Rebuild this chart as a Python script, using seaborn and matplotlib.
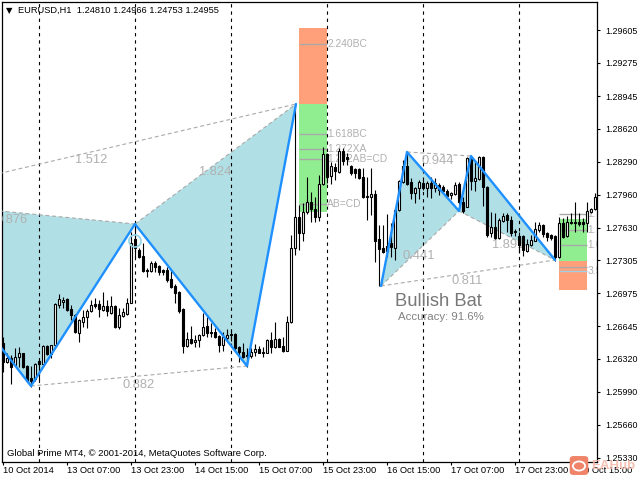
"""EURUSD H1 candles with two harmonic patterns, drawn like an MT4 window."""
import numpy as np
import seaborn as sns
import matplotlib
matplotlib.use("Agg")
import matplotlib.pyplot as plt
from matplotlib.patches import FancyBboxPatch, Circle

# -----------------
# Chart values
# -----------------
opens = [
    1.26475, 1.26285, 1.26325, 1.26255, 1.26335, 1.26375, 1.26245, 1.26125, 1.26115, 1.26295,
    1.26265, 1.26445, 1.26365, 1.26455, 1.26855, 1.26885, 1.26915, 1.26815, 1.26755, 1.26575,
    1.26685, 1.26735, 1.26795, 1.26865, 1.26865, 1.26805, 1.26845, 1.26775, 1.26845, 1.26635,
    1.26745, 1.26765, 1.26875, 1.27515, 1.27405, 1.27345, 1.27205, 1.27195, 1.27275, 1.27245,
    1.27205, 1.27205, 1.27115, 1.27045, 1.26985, 1.26815, 1.26445, 1.26515, 1.26485, 1.26505,
    1.26555, 1.26645, 1.26585, 1.26585, 1.26545, 1.26455, 1.26525, 1.26565, 1.26565, 1.26435,
    1.26385, 1.26355, 1.26345, 1.26385, 1.26415, 1.26385, 1.26375, 1.26505, 1.26435, 1.26515,
    1.26445, 1.26395, 1.26685, 1.27425, 1.27735, 1.27575, 1.27785, 1.27885, 1.27815, 1.27735,
    1.28065, 1.28365, 1.28145, 1.28235, 1.28185, 1.28395, 1.28335, 1.28245, 1.28215, 1.28215,
    1.28135, 1.27935, 1.27935, 1.27965, 1.27515, 1.27425, 1.27445, 1.27475, 1.27425, 1.27805,
    1.28085, 1.28245, 1.28085, 1.27975, 1.28025, 1.28075, 1.28025, 1.28075, 1.28025, 1.28055,
    1.28035, 1.27995, 1.27955, 1.27965, 1.28065, 1.27885, 1.27835, 1.28335, 1.28095, 1.28115,
    1.28335, 1.28035, 1.27575, 1.27635, 1.27525, 1.27695, 1.27755, 1.27705, 1.27595, 1.27545,
    1.27545, 1.27395, 1.27455, 1.27495, 1.27605, 1.27655, 1.27575, 1.27555, 1.27545, 1.27335,
    1.27675, 1.27545, 1.27685, 1.27685, 1.27685, 1.27685, 1.27675, 1.27785, 1.27815,
]
highs = [
    1.26535, 1.26375, 1.26355, 1.26425, 1.26435, 1.26375, 1.26255, 1.26245, 1.26275, 1.26305,
    1.26455, 1.26455, 1.26455, 1.26875, 1.26965, 1.26935, 1.26925, 1.26855, 1.26765, 1.26715,
    1.26805, 1.26815, 1.26905, 1.26925, 1.26905, 1.26985, 1.26905, 1.26945, 1.26855, 1.26825,
    1.26825, 1.26925, 1.27585, 1.27655, 1.27425, 1.27475, 1.27225, 1.27295, 1.27295, 1.27255,
    1.27215, 1.27235, 1.27205, 1.27065, 1.26995, 1.26825, 1.26585, 1.26645, 1.26555, 1.26565,
    1.26775, 1.26735, 1.26675, 1.26625, 1.26555, 1.26585, 1.26615, 1.26605, 1.26575, 1.26445,
    1.26475, 1.26425, 1.26425, 1.26465, 1.26445, 1.26435, 1.26515, 1.26585, 1.26685, 1.26525,
    1.26535, 1.26745, 1.27555, 1.28855, 1.27855, 1.27875, 1.28135, 1.27985, 1.27935, 1.28155,
    1.28435, 1.28375, 1.28285, 1.28275, 1.28425, 1.28425, 1.28375, 1.28255, 1.28225, 1.28225,
    1.28225, 1.28135, 1.28225, 1.28005, 1.27655, 1.27655, 1.27765, 1.27675, 1.27825, 1.28105,
    1.28305, 1.28385, 1.28125, 1.28035, 1.28105, 1.28105, 1.28095, 1.28135, 1.28125, 1.28075,
    1.28055, 1.28015, 1.27985, 1.28085, 1.28085, 1.27935, 1.28335, 1.28345, 1.28305, 1.28345,
    1.28345, 1.28045, 1.27785, 1.27775, 1.27725, 1.27775, 1.27775, 1.27745, 1.27615, 1.27585,
    1.27555, 1.27515, 1.27555, 1.27685, 1.27685, 1.27665, 1.27585, 1.27565, 1.27555, 1.27735,
    1.27725, 1.27745, 1.27775, 1.27885, 1.27775, 1.27725, 1.27885, 1.27825, 1.27975,
]
lows = [
    1.26185, 1.26275, 1.26065, 1.26245, 1.26235, 1.26225, 1.26085, 1.26035, 1.26095, 1.26105,
    1.26245, 1.26355, 1.26325, 1.26445, 1.26825, 1.26825, 1.26795, 1.26705, 1.26575, 1.26485,
    1.26635, 1.26625, 1.26785, 1.26825, 1.26735, 1.26795, 1.26745, 1.26765, 1.26625, 1.26615,
    1.26735, 1.26755, 1.26875, 1.27325, 1.27325, 1.27185, 1.27135, 1.27185, 1.27185, 1.27155,
    1.27155, 1.27085, 1.27025, 1.26875, 1.26775, 1.26375, 1.26435, 1.26465, 1.26435, 1.26435,
    1.26545, 1.26535, 1.26535, 1.26525, 1.26385, 1.26395, 1.26495, 1.26495, 1.26405, 1.26285,
    1.26325, 1.26235, 1.26325, 1.26345, 1.26375, 1.26335, 1.26375, 1.26375, 1.26425, 1.26435,
    1.26385, 1.26395, 1.26675, 1.27355, 1.27405, 1.27495, 1.27765, 1.27685, 1.27685, 1.27695,
    1.28055, 1.28075, 1.28065, 1.28105, 1.28175, 1.28255, 1.28255, 1.28155, 1.28125, 1.28115,
    1.27925, 1.27705, 1.27755, 1.27285, 1.27045, 1.27375, 1.27335, 1.27335, 1.27305, 1.27795,
    1.28075, 1.28055, 1.27915, 1.27875, 1.27915, 1.28005, 1.27935, 1.27925, 1.27985, 1.27955,
    1.27985, 1.27935, 1.27915, 1.27955, 1.27855, 1.27775, 1.27835, 1.28005, 1.27995, 1.28105,
    1.27845, 1.27535, 1.27535, 1.27515, 1.27515, 1.27685, 1.27585, 1.27545, 1.27545, 1.27375,
    1.27345, 1.27385, 1.27445, 1.27495, 1.27585, 1.27535, 1.27495, 1.27505, 1.27295, 1.27325,
    1.27525, 1.27535, 1.27665, 1.27585, 1.27645, 1.27585, 1.27585, 1.27775, 1.27805,
]
closes = [
    1.26285, 1.26325, 1.26235, 1.26335, 1.26375, 1.26235, 1.26095, 1.26095, 1.26265, 1.26265,
    1.26445, 1.26365, 1.26455, 1.26865, 1.26915, 1.26905, 1.26805, 1.26755, 1.26585, 1.26705,
    1.26735, 1.26795, 1.26855, 1.26845, 1.26815, 1.26845, 1.26795, 1.26845, 1.26635, 1.26755,
    1.26785, 1.26875, 1.27475, 1.27425, 1.27335, 1.27195, 1.27195, 1.27275, 1.27235, 1.27185,
    1.27185, 1.27105, 1.27035, 1.26975, 1.26795, 1.26445, 1.26515, 1.26475, 1.26505, 1.26555,
    1.26635, 1.26575, 1.26575, 1.26535, 1.26455, 1.26535, 1.26555, 1.26555, 1.26425, 1.26385,
    1.26335, 1.26345, 1.26385, 1.26415, 1.26375, 1.26375, 1.26505, 1.26435, 1.26515, 1.26435,
    1.26395, 1.26685, 1.27425, 1.27735, 1.27575, 1.27785, 1.27885, 1.27815, 1.27735, 1.28065,
    1.28365, 1.28135, 1.28245, 1.28195, 1.28395, 1.28295, 1.28315, 1.28175, 1.28175, 1.28125,
    1.27935, 1.27945, 1.27965, 1.27495, 1.27415, 1.27385, 1.27395, 1.27435, 1.27805, 1.28095,
    1.28245, 1.28065, 1.27975, 1.28025, 1.28085, 1.28025, 1.28075, 1.28025, 1.28075, 1.28005,
    1.27995, 1.27945, 1.27975, 1.28055, 1.27885, 1.27795, 1.28325, 1.28095, 1.28125, 1.28335,
    1.28035, 1.27555, 1.27635, 1.27525, 1.27705, 1.27745, 1.27705, 1.27575, 1.27585, 1.27455,
    1.27405, 1.27465, 1.27505, 1.27615, 1.27655, 1.27565, 1.27535, 1.27525, 1.27335, 1.27675,
    1.27535, 1.27685, 1.27675, 1.27675, 1.27665, 1.27665, 1.27795, 1.27815, 1.27935,
]

# tick labels
y_ticks = [1.29605, 1.29275, 1.28945, 1.28620, 1.28290, 1.27960, 1.27630,
           1.27305, 1.26975, 1.26645, 1.26320, 1.25990, 1.25660, 1.25330]
x_tick_bars = [0, 16, 32, 48, 64, 80, 96, 112, 128, 144]
x_tick_labels = ["10 Oct 2014", "13 Oct 07:00", "13 Oct 23:00", "14 Oct 15:00", "15 Oct 07:00",
                 "15 Oct 23:00", "16 Oct 15:00", "17 Oct 07:00", "17 Oct 23:00", "20 Oct 15:00"]
period_bars = [9, 33, 57, 81, 105, 129]

# pattern points X, A, B, C, D
left_x = [-29.25, 7, 33, 61, 73.25]
left_y = [1.27905, 1.26045, 1.27665, 1.26245, 1.28865]
right_x = [94.5, 101, 114, 117, 138]
right_y = [1.27045, 1.28385, 1.27795, 1.28345, 1.27305]

# target zones
zone_left = [74, 81]
zone_right = [139, 146]
left_red = [1.28865, 1.29625]
left_green = [1.27785, 1.28865]
right_green = [1.27295, 1.27715]
right_red = [1.27005, 1.27295]
left_levels = [1.29465, 1.28565, 1.28415, 1.28315, 1.27865]
left_level_names = ["2.240BC", "1.618BC", "1.272XA", "1.272AB=CD", "AB=CD"]
right_levels = [1.27765, 1.27605, 1.27455, 1.27235, 1.27195]
right_level_names = ["1.", "1.", "1.6", "", "3.9"]

# ratio labels
ratio_text = ["1.512", "1.824", "0.876", "0.882", "0.944", "0.441", "0.811", "1.891"]
ratio_x = [22, 53, 2.2, 34, 108.7, 104, 116, 126.3]
ratio_y = [1.28305, 1.28185, 1.27705, 1.26055, 1.28295, 1.27345, 1.27095, 1.27455]

bars = np.arange(len(opens))
opens, highs, lows, closes = map(np.array, (opens, highs, lows, closes))

BLUE = "#1e90ff"
TEAL = "#b0e0e6"
GREEN = "#90ee90"
SALMON = "#ffa07a"
DASH_GREY = "#a9a9a9"
TEXT_GREY = "#b0b0b0"

sns.set_theme(style="white")
plt.rcParams["font.family"] = ["Liberation Sans", "DejaVu Sans"]

fig = plt.figure(figsize=(6.4, 4.8), dpi=100)
ax = fig.add_axes([2 / 640, 18 / 480, 595 / 640, 460 / 480])
ax.set_xlim(-0.25, 148.5)
ax.set_ylim(1.25285, 1.29885)

# -----------------
# Pattern fills and zones
# -----------------
ax.fill(left_x[:3], left_y[:3], color=TEAL, lw=0, zorder=1)
ax.fill(left_x[2:], left_y[2:], color=TEAL, lw=0, zorder=1)
ax.fill(right_x[:3], right_y[:3], color=TEAL, lw=0, zorder=1)
ax.fill(right_x[2:], right_y[2:], color=TEAL, lw=0, zorder=1)

ax.fill_between(zone_left, left_red[0], left_red[1], color=SALMON, lw=0, zorder=1)
ax.fill_between(zone_left, left_green[0], left_green[1], color=GREEN, lw=0, zorder=1)
ax.fill_between(zone_right, right_green[0], right_green[1], color=GREEN, lw=0, zorder=1)
ax.fill_between(zone_right, right_red[0], right_red[1], color=SALMON, lw=0, zorder=1)
ax.hlines(left_levels, zone_left[0], zone_left[1], color=DASH_GREY, lw=1.0, zorder=2)
ax.hlines(right_levels[:-1], zone_right[0], zone_right[1], color=DASH_GREY, lw=1.0, zorder=2)
ax.hlines(right_levels[-1], zone_right[0], zone_right[1], color="#9fd0e0", lw=1.0, zorder=2)

for b in period_bars:
    ax.axvline(b, color="black", lw=0.8, ls=(0, (3, 3.5)), zorder=2)

# dashed triangle edges
dash = dict(color=DASH_GREY, lw=0.8, ls=(0, (3.5, 2.5)), zorder=3)
for xs, ys in ((left_x, left_y), (right_x, right_y)):
    ax.plot([xs[0], xs[2]], [ys[0], ys[2]], **dash)
    ax.plot([xs[2], xs[4]], [ys[2], ys[4]], **dash)
    ax.plot([xs[1], xs[3]], [ys[1], ys[3]], **dash)
    ax.plot([xs[0], xs[4]], [ys[0], ys[4]], **dash)

# -----------------
# Candles
# -----------------
ax.vlines(bars, lows, highs, color="black", lw=0.8, zorder=4)
up = closes >= opens
ax.bar(bars[up], (closes - opens)[up], bottom=opens[up], width=0.5,
       facecolor="white", edgecolor="black", lw=0.8, zorder=5)
ax.bar(bars[~up], (opens - closes)[~up], bottom=closes[~up], width=0.5,
       facecolor="black", edgecolor="black", lw=0.8, zorder=5)

# pattern legs
sns.lineplot(x=left_x, y=left_y, sort=False, estimator=None, color=BLUE, lw=1.7, ax=ax, zorder=6)
sns.lineplot(x=right_x, y=right_y, sort=False, estimator=None, color=BLUE, lw=1.7, ax=ax, zorder=6)
sns.scatterplot(x=[33], y=[1.27495], s=75, facecolor="none", edgecolor="#8fd3e8", linewidth=1.2,
                ax=ax, zorder=7)

# -----------------
# Text (the candles sit on top of the ratio labels, as in the terminal)
# -----------------
for t, x, y in zip(ratio_text, ratio_x, ratio_y):
    ax.text(x, y, t, color=TEXT_GREY, fontsize=9.3, ha="center", va="center", zorder=3, clip_on=True)
for t, y in zip(left_level_names, left_levels):
    ax.text(81, y, t, color=TEXT_GREY, fontsize=7.4, ha="left", va="center", zorder=3, clip_on=True)
for t, y in zip(right_level_names, right_levels):
    ax.text(146.1, y, t, color=TEXT_GREY, fontsize=7.4, ha="left", va="center", zorder=3, clip_on=True)

ax.text(108.9, 1.26895, "Bullish Bat", color="#787878", fontsize=13.2, ha="center", va="center", zorder=8)
ax.text(109.4, 1.26735, "Accuracy: 91.6%", color="#808080", fontsize=8.2, ha="center", va="center", zorder=8)

fig.text(18 / 640, 1 - 10.5 / 480, "EURUSD,H1  1.24810 1.24966 1.24753 1.24955",
         fontsize=6.65, color="black", va="center", ha="left")
fig.text(7 / 640, 1 - 454 / 480, "Global Prime MT4, © 2001-2014, MetaQuotes Software Corp.",
         fontsize=6.8, color="black", va="center", ha="left")
fig.text(9.5 / 640, 1 - 10.5 / 480, "▼", fontsize=6, family="DejaVu Sans", color="black",
         va="center", ha="center")

# -----------------
# Axes furniture
# -----------------
ax.set_xlabel("")
ax.set_ylabel("")
ax.set_xticks(x_tick_bars)
ax.set_xticklabels(x_tick_labels, ha="left", fontsize=6.7, color="black")
ax.yaxis.tick_right()
ax.set_yticks(y_ticks)
ax.set_yticklabels([f"{v:.5f}" for v in y_ticks], fontsize=6.4, color="black")
ax.tick_params(axis="x", direction="out", length=2.5, width=0.8, pad=0.5, color="black", bottom=True)
ax.tick_params(axis="y", direction="out", length=2.5, width=0.8, pad=3.5, color="black", right=True)
ax.grid(False)
for s in ax.spines.values():
    s.set_color("black")
    s.set_linewidth(0.9)
ax.set_facecolor("white")
for lab in ax.get_xticklabels():
    lab.set_clip_on(False)

# watermark, bottom right corner
fig.add_artist(FancyBboxPatch((571 / 640, 1 - 474 / 480), 16 / 640, 17 / 480,
                              boxstyle="round,pad=0.002,rounding_size=0.006",
                              transform=fig.transFigure, facecolor="#ef8468", edgecolor="none", zorder=9))
fig.add_artist(Circle((579 / 640, 1 - 466 / 480), 0.0095, transform=fig.transFigure,
                      facecolor="none", edgecolor="white", lw=1.3, zorder=10))
fig.text(613 / 640, 1 - 466 / 480, "EAHub", fontsize=9.5, fontweight="bold", color="#f5b7a5", alpha=0.85,
         ha="center", va="center", zorder=10)

fig.savefig("out.png", dpi=100)
